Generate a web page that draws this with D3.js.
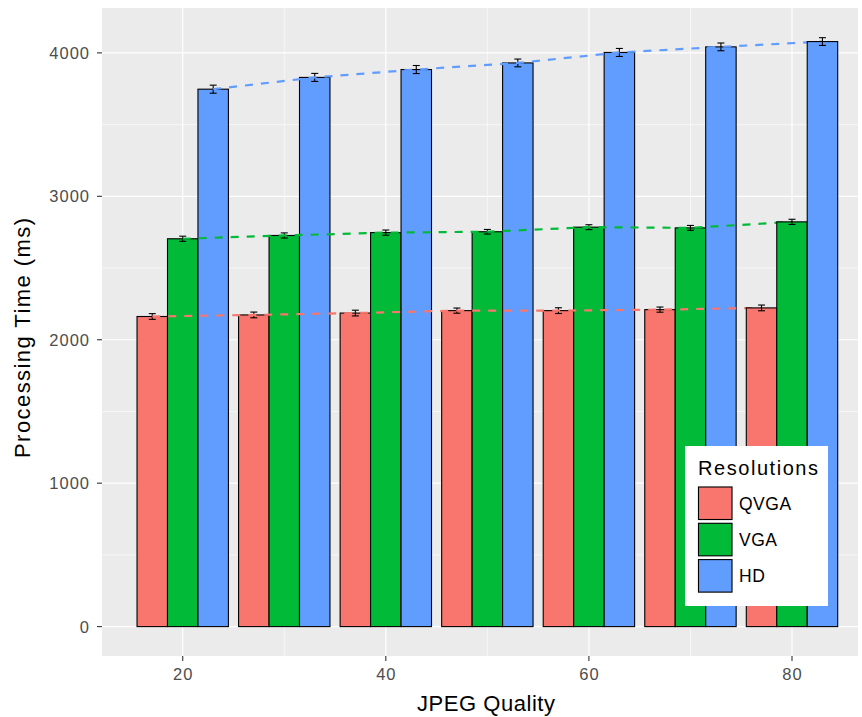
<!DOCTYPE html>
<html>
<head>
<meta charset="utf-8">
<script src="https://cdn.jsdelivr.net/npm/d3@7"></script>
<style>
  body { margin: 0; background: #fff; }
  svg { display: block; font-family: "Liberation Sans", Arial, Helvetica, sans-serif; }
</style>
</head>
<body>
<svg id="chart" width="862" height="717"></svg>
<script>
const qualities = [20, 30, 40, 50, 60, 70, 80];
const resolutions = ["QVGA", "VGA", "HD"];
const colors = ["#F8766D", "#00BA38", "#619CFF"];
const qvgaValues = [2162, 2173, 2186, 2203, 2203, 2210, 2222];
const vgaValues  = [2704, 2727, 2747, 2753, 2785, 2780, 2822];
const hdValues   = [3747, 3829, 3884, 3930, 4003, 4042, 4079];
const qvgaErr = [20, 20, 20, 18, 20, 18, 20];
const vgaErr  = [18, 18, 18, 16, 17, 17, 18];
const hdErr   = [28, 28, 28, 27, 28, 27, 27];
const yTicks = [0, 1000, 2000, 3000, 4000];
const xTicks = [20, 40, 60, 80];

const series = [
  { name: "QVGA", values: qvgaValues, err: qvgaErr, color: colors[0] },
  { name: "VGA",  values: vgaValues,  err: vgaErr,  color: colors[1] },
  { name: "HD",   values: hdValues,   err: hdErr,   color: colors[2] }
];

const svg = d3.select("#chart");
const panel = { left: 102, right: 858, top: 8, bottom: 656 };

const x = d3.scaleLinear().domain([12.05, 86.5]).range([panel.left, panel.right]);
const y = d3.scaleLinear().domain([-205, 4313]).range([panel.bottom, panel.top]);

const barW = 3; // data units per bar
const dodge = i => (i - 1) * barW;

// panel background
svg.append("rect").attr("x", panel.left).attr("y", panel.top)
  .attr("width", panel.right - panel.left).attr("height", panel.bottom - panel.top)
  .attr("fill", "#EBEBEB");

// minor grid
const xMinor = [30, 50, 70];
const yMinor = [500, 1500, 2500, 3500];
svg.append("g").selectAll("line").data(xMinor).join("line")
  .attr("x1", d => x(d)).attr("x2", d => x(d))
  .attr("y1", panel.top).attr("y2", panel.bottom)
  .attr("stroke", "#fff").attr("stroke-width", 0.6);
svg.append("g").selectAll("line").data(yMinor).join("line")
  .attr("y1", d => y(d)).attr("y2", d => y(d))
  .attr("x1", panel.left).attr("x2", panel.right)
  .attr("stroke", "#fff").attr("stroke-width", 0.6);
// major grid
svg.append("g").selectAll("line").data(xTicks).join("line")
  .attr("x1", d => x(d)).attr("x2", d => x(d))
  .attr("y1", panel.top).attr("y2", panel.bottom)
  .attr("stroke", "#fff").attr("stroke-width", 1.2);
svg.append("g").selectAll("line").data(yTicks).join("line")
  .attr("y1", d => y(d)).attr("y2", d => y(d))
  .attr("x1", panel.left).attr("x2", panel.right)
  .attr("stroke", "#fff").attr("stroke-width", 1.2);

function drawBars(g, idxs) {
  series.forEach((s, si) => {
    g.append("g").selectAll("rect").data(idxs).join("rect")
      .attr("x", i => x(qualities[i] + dodge(si) - barW / 2))
      .attr("width", i => x(qualities[i] + dodge(si) + barW / 2) - x(qualities[i] + dodge(si) - barW / 2))
      .attr("y", i => y(s.values[i]))
      .attr("height", i => y(0) - y(s.values[i]))
      .attr("fill", s.color).attr("stroke", "#000").attr("stroke-width", 1.1);
  });
  series.forEach((s, si) => {
    const eg = g.append("g").attr("stroke", "#000").attr("stroke-width", 1.1);
    idxs.forEach(i => {
      const cx = x(qualities[i] + dodge(si));
      const hw = 3.5;
      const t = y(s.values[i] + s.err[i]), b = y(s.values[i] - s.err[i]);
      eg.append("line").attr("x1", cx).attr("x2", cx).attr("y1", t).attr("y2", b);
      eg.append("line").attr("x1", cx - hw).attr("x2", cx + hw).attr("y1", t).attr("y2", t);
      eg.append("line").attr("x1", cx - hw).attr("x2", cx + hw).attr("y1", b).attr("y2", b);
    });
  });
}

const n = qualities.length;
drawBars(svg.append("g"), d3.range(0, n - 1));

// dashed trend lines
series.forEach((s, si) => {
  const line = d3.line()
    .x((d, i) => x(qualities[i] + dodge(si)))
    .y(d => y(d));
  svg.append("path").datum(s.values)
    .attr("d", line)
    .attr("fill", "none")
    .attr("stroke", s.color)
    .attr("stroke-width", 2.2)
    .attr("stroke-dasharray", "8,8");
});

drawBars(svg.append("g"), [n - 1]);

// y axis ticks & labels
const yAx = svg.append("g");
yAx.selectAll("line").data(yTicks).join("line")
  .attr("x1", panel.left - 5).attr("x2", panel.left)
  .attr("y1", d => y(d)).attr("y2", d => y(d))
  .attr("stroke", "#333").attr("stroke-width", 1.1);
yAx.selectAll("text").data(yTicks).join("text")
  .attr("x", panel.left - 12).attr("y", d => y(d))
  .attr("dy", "0.36em").attr("text-anchor", "end")
  .attr("font-size", 16.5).attr("letter-spacing", 1).attr("fill", "#4D4D4D")
  .text(d => d);

// x axis ticks & labels
const xAx = svg.append("g");
xAx.selectAll("line").data(xTicks).join("line")
  .attr("x1", d => x(d)).attr("x2", d => x(d))
  .attr("y1", panel.bottom).attr("y2", panel.bottom + 5)
  .attr("stroke", "#333").attr("stroke-width", 1.1);
xAx.selectAll("text").data(xTicks).join("text")
  .attr("x", d => x(d) + 0.5).attr("y", panel.bottom + 24)
  .attr("text-anchor", "middle")
  .attr("font-size", 16.5).attr("letter-spacing", 1).attr("fill", "#4D4D4D")
  .text(d => d);

// axis titles
svg.append("text")
  .attr("x", (panel.left + panel.right) / 2 + 6).attr("y", 711)
  .attr("text-anchor", "middle").attr("font-size", 22).attr("fill", "#000")
  .attr("textLength", 138).attr("lengthAdjust", "spacing")
  .text("JPEG Quality");
svg.append("text")
  .attr("transform", `translate(30, ${(panel.top + panel.bottom) / 2 + 6}) rotate(-90)`)
  .attr("text-anchor", "middle").attr("font-size", 22).attr("fill", "#000")
  .attr("textLength", 240).attr("lengthAdjust", "spacing")
  .text("Processing Time (ms)");

// legend
const lg = svg.append("g");
lg.append("rect").attr("x", 685).attr("y", 446).attr("width", 143).attr("height", 160).attr("fill", "#fff");
lg.append("text").attr("x", 698).attr("y", 475).attr("font-size", 20).attr("fill", "#000")
  .attr("textLength", 120).attr("lengthAdjust", "spacing")
  .text("Resolutions");
resolutions.forEach((r, i) => {
  const ky = 486 + i * 36.3;
  lg.append("rect").attr("x", 697.5).attr("y", ky).attr("width", 35.5).attr("height", 34.5)
    .attr("fill", "#F2F2F2");
  lg.append("rect").attr("x", 698.5).attr("y", ky + 1).attr("width", 33.5).attr("height", 32.5)
    .attr("fill", colors[i]).attr("stroke", "#000").attr("stroke-width", 1.1);
  lg.append("text").attr("x", 739).attr("y", ky + 17.5).attr("dy", "0.36em")
    .attr("font-size", 17.5).attr("letter-spacing", 0.5).attr("fill", "#000").text(r);
});
</script>
</body>
</html>
